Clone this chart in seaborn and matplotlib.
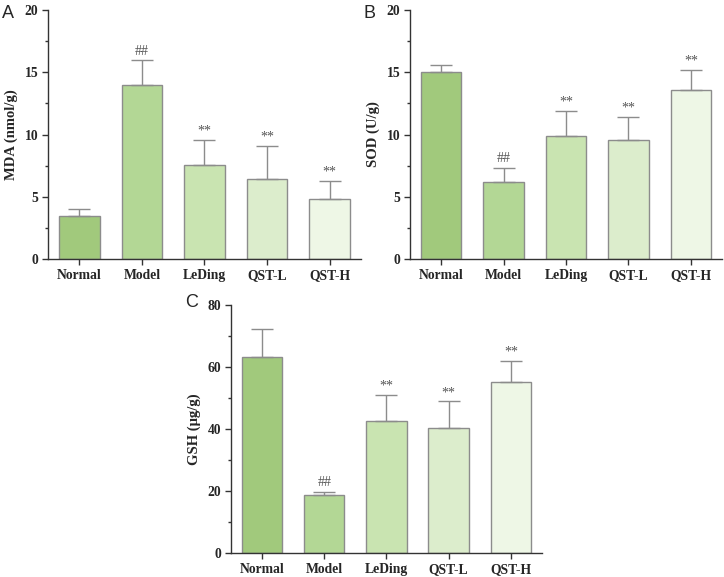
import numpy as np
import pandas as pd
import matplotlib
matplotlib.use("Agg")
import matplotlib.pyplot as plt
from matplotlib.ticker import MultipleLocator
import seaborn as sns

# Data
groups = ["Normal", "Model", "LeDing", "QST-L", "QST-H"]

mda_mean = [3.42, 13.96, 7.54, 6.42, 4.84]
mda_top = [3.98, 15.99, 9.60, 9.09, 6.26]

sod_mean = [15.05, 6.18, 9.87, 9.60, 13.61]
sod_top = [15.60, 7.35, 11.93, 11.44, 15.19]

gsh_mean = [63.1, 18.8, 42.7, 40.3, 55.2]
gsh_top = [72.3, 19.8, 51.1, 48.9, 61.9]

mda_marks = ["", "##", "**", "**", "**"]
sod_marks = ["", "##", "**", "**", "**"]
gsh_marks = ["", "##", "**", "**", "**"]

bar_colors = ["#a1c97c", "#b3d795", "#c9e4b1", "#dcedcc", "#eef7e6"]

sns.set_style("ticks")
plt.rcParams["font.family"] = ["Liberation Serif", "DejaVu Serif"]


def draw_panel(ax, mean, top, marks, ylabel, ymax, major, letter, letter_y):
    df = pd.DataFrame({"group": groups, "value": mean})
    sns.barplot(data=df, x="group", y="value", hue="group", palette=bar_colors,
                saturation=1, errorbar=None, width=0.65, edgecolor="#8c8c8c",
                linewidth=1.0, legend=False, ax=ax)
    x = np.arange(len(groups))
    err = np.array(top) - np.array(mean)
    ax.errorbar(x, mean, yerr=[np.zeros(len(x)), err], fmt="none",
                ecolor="#8c8c8c", elinewidth=1.0, capsize=8, capthick=1.0)
    step = ymax / 40.0
    for xi, t, m in zip(x, top, marks):
        if m:
            ax.text(xi, t + step * 0.35, m, ha="center", va="bottom",
                    fontsize=10, color="#555555")
    ax.set_ylim(0, ymax)
    ax.set_xlim(-0.5, len(groups) - 0.5)
    ax.yaxis.set_major_locator(MultipleLocator(major))
    ax.yaxis.set_minor_locator(MultipleLocator(major / 2))
    ax.set_xlabel("")
    ax.set_ylabel(ylabel, fontsize=10.5, fontweight="bold", labelpad=5)
    ax.tick_params(axis="both", which="major", direction="out", length=4,
                   width=1.0, color="#333333", labelsize=9.8, pad=3)
    ax.tick_params(axis="y", which="minor", direction="out", length=2.5,
                   width=1.0, color="#333333")
    for lab in ax.get_xticklabels() + ax.get_yticklabels():
        lab.set_fontweight("bold")
    sns.despine(ax=ax)
    for side in ["left", "bottom"]:
        ax.spines[side].set_color("#333333")
        ax.spines[side].set_linewidth(1.0)
    ax.text(-0.148, letter_y, letter, transform=ax.transAxes, fontsize=13,
            family="Liberation Sans", ha="left", va="center")


fig = plt.figure(figsize=(7.24, 5.77), dpi=100)
ax_a = fig.add_axes([0.0663, 0.5511, 0.4323, 0.4315])
ax_b = fig.add_axes([0.5663, 0.5511, 0.4310, 0.4315])
ax_c = fig.add_axes([0.3190, 0.0416, 0.4296, 0.4298])

draw_panel(ax_a, mda_mean, mda_top, mda_marks, "MDA (nmol/g)", 20, 5, "A", 0.985)
draw_panel(ax_b, sod_mean, sod_top, sod_marks, "SOD (U/g)", 20, 5, "B", 0.985)
draw_panel(ax_c, gsh_mean, gsh_top, gsh_marks, "GSH (μg/g)", 80, 20, "C", 1.01)

fig.savefig("out.png", dpi=100)
